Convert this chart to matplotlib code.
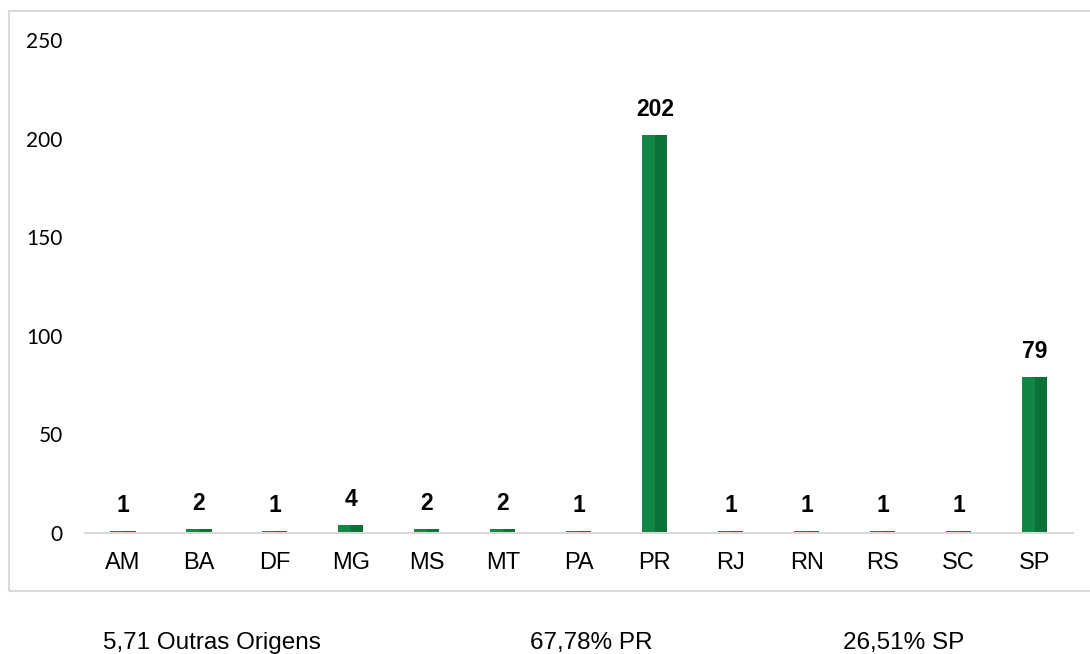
import matplotlib.pyplot as plt
from matplotlib.patches import Rectangle

plt.rcParams['font.family'] = ['Liberation Sans', 'DejaVu Sans']

estados = ['AM', 'BA', 'DF', 'MG', 'MS', 'MT', 'PA', 'PR', 'RJ', 'RN', 'RS', 'SC', 'SP']
qtd = [1, 2, 1, 4, 2, 2, 1, 202, 1, 1, 1, 1, 79]
rodape = ['5,71 Outras Origens', '67,78% PR', '26,51% SP']

fig = plt.figure(figsize=(10.9, 6.54), dpi=100)
ax = fig.add_axes([0.078, 0.185, 0.906, 0.754])

x = list(range(len(estados)))
w = 0.33
# barra em duas metades para imitar o efeito 3D do Excel
ax.bar([i - w / 4 for i in x], qtd, w / 2, color='#0f8646', linewidth=0)
ax.bar([i + w / 4 for i in x], qtd, w / 2, color='#0a7139', linewidth=0)

for i, v in zip(x, qtd):
    ax.annotate(str(v), (i, v), xytext=(0, 10), textcoords='offset points',
                ha='center', va='bottom', fontsize=16.5, fontweight='bold')

ax.set_xlim(-0.5, len(estados) - 0.5)
ax.set_ylim(0, 250)
ax.set_yticks([0, 50, 100, 150, 200, 250])
ax.set_xticks(x)
ax.set_xticklabels(estados, fontsize=17)
for lbl in ax.get_yticklabels():
    lbl.set_family(['Lato', 'DejaVu Sans'])
    lbl.set_fontsize(15)
ax.tick_params(axis='x', length=0, pad=14)
ax.tick_params(axis='y', length=0, pad=16)

for s in ['top', 'right', 'left']:
    ax.spines[s].set_visible(False)
ax.spines['bottom'].set_color('#d9d9d9')
ax.spines['bottom'].set_linewidth(1.5)

# moldura do gráfico
fig.add_artist(Rectangle((9 / 1090, 1 - 591 / 654), 1.1, (591 - 11) / 654,
                         transform=fig.transFigure, fill=False,
                         edgecolor='#d9d9d9', linewidth=1.5))

fig.text(103 / 1090, 1 - 643 / 654, rodape[0], fontsize=17.5, va='center')
fig.text(530 / 1090, 1 - 643 / 654, rodape[1], fontsize=17.5, va='center')
fig.text(843 / 1090, 1 - 643 / 654, rodape[2], fontsize=17.5, va='center')

fig.savefig('out.png', dpi=100)
